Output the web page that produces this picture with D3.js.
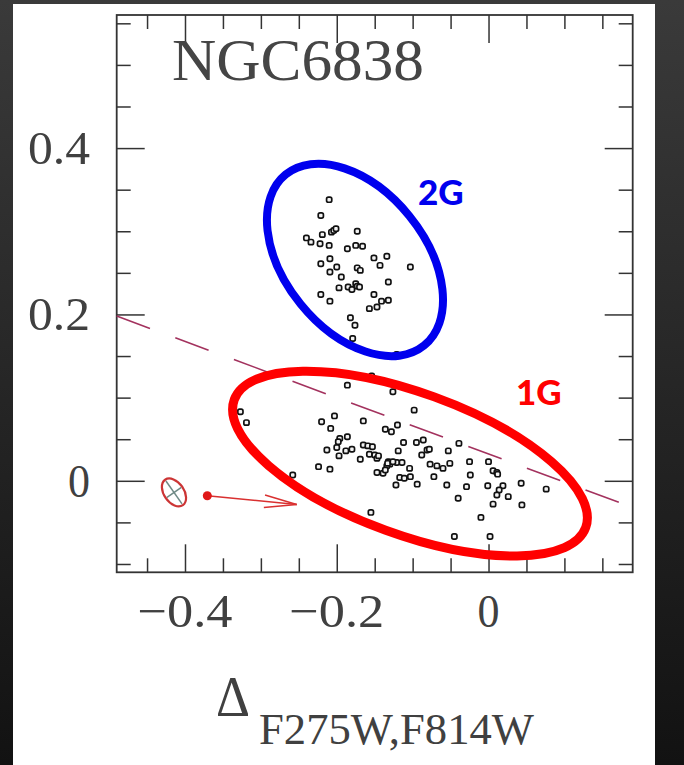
<!DOCTYPE html>
<html><head><meta charset="utf-8">
<script src="https://cdn.jsdelivr.net/npm/d3@7"></script>
<style>body{margin:0;background:#1d1d1d;} svg{display:block;}</style>
</head><body>
<svg id="chart" width="684" height="765"></svg>
<script>
// ---------------- data ----------------
const titleText = "NGC6838";
const xMajorTicks = [-0.4, -0.2, 0];
const xMinorTicks = [-0.45, -0.35, -0.3, -0.25, -0.15, -0.1, -0.05, 0.05, 0.1, 0.15];
const yMajorTicks = [0, 0.2, 0.4];
const yMinorTicks = [-0.1, -0.05, 0.05, 0.1, 0.15, 0.25, 0.3, 0.35, 0.45, 0.5, 0.55];
const xTickLabels = ["\u22120.4", "\u22120.2", "0"];
const yTickLabels = ["0", "0.2", "0.4"];

// second generation (2G) stars
const g2x = [-0.210,-0.221,-0.240,-0.234,-0.219,-0.207,-0.204,-0.201,-0.173,-0.222,-0.210,-0.186,-0.175,-0.166,-0.209,-0.221,-0.151,-0.134,-0.200,-0.209,-0.173,-0.169,-0.143,-0.103,-0.194,-0.197,-0.185,-0.180,-0.175,-0.173,-0.170,-0.132,-0.221,-0.209,-0.151,-0.141,-0.132,-0.157,-0.147,-0.182,-0.176,-0.179,-0.121];
const g2y = [0.338,0.319,0.292,0.287,0.296,0.299,0.301,0.303,0.300,0.285,0.283,0.279,0.283,0.282,0.267,0.261,0.268,0.270,0.257,0.251,0.256,0.253,0.259,0.257,0.245,0.232,0.233,0.230,0.237,0.234,0.233,0.239,0.224,0.216,0.224,0.216,0.217,0.207,0.209,0.196,0.187,0.171,0.152];

// first generation (1G) stars
const g1x = [-0.327,-0.319,-0.186,-0.154,-0.126,-0.098,-0.220,-0.203,-0.165,-0.208,-0.136,-0.128,-0.120,-0.186,-0.196,-0.198,-0.200,-0.213,-0.197,-0.188,-0.180,-0.165,-0.159,-0.153,-0.157,-0.150,-0.147,-0.169,-0.112,-0.095,-0.086,-0.119,-0.132,-0.130,-0.134,-0.121,-0.114,-0.088,-0.081,-0.078,-0.224,-0.209,-0.147,-0.139,-0.136,-0.104,-0.117,-0.111,-0.103,-0.122,-0.094,-0.077,-0.068,-0.060,-0.051,-0.053,-0.039,-0.072,-0.055,-0.025,0.000,-0.024,-0.029,0.006,0.011,0.012,-0.001,0.019,0.014,0.011,0.026,0.043,0.076,0.044,0.006,-0.040,-0.010,-0.258,-0.155,-0.045,0.002,-0.133,-0.126,-0.145];
const g1y = [0.083,0.070,0.115,0.126,0.107,0.085,0.071,0.078,0.072,0.063,0.062,0.059,0.067,0.053,0.051,0.047,0.040,0.037,0.030,0.036,0.038,0.043,0.042,0.041,0.032,0.031,0.027,0.026,0.046,0.046,0.049,0.036,0.023,0.020,0.018,0.022,0.022,0.031,0.037,0.038,0.017,0.014,0.010,0.009,0.013,0.015,0.004,0.003,0.005,-0.005,-0.004,0.020,0.018,0.015,0.021,0.036,0.045,0.005,-0.005,0.023,0.023,0.007,-0.007,0.012,0.010,0.008,-0.006,-0.006,-0.011,-0.017,-0.019,-0.003,-0.010,-0.029,-0.028,-0.021,-0.044,0.007,-0.038,-0.067,-0.067,0.021,0.023,0.030];

// dividing line
const dividerX = [-0.49, 0.19];
const dividerY = [0.198, -0.032];

// group annotations
const groupNames = ["2G", "1G"];
const groupCenterX = [-0.176, -0.1035];
const groupCenterY = [0.2655, 0.0207];

// typical error / reddening vector
const errorCenter = [-0.4145, -0.014];
const vectorStart = [-0.3706, -0.018];
const vectorEnd = [-0.2528, -0.0284];

// ---------------- drawing ----------------
const svg = d3.select("#chart");
const W = 684, H = 765;

// dark screenshot backdrop + white panel
const grad = svg.append("defs").append("linearGradient").attr("id","bg").attr("x1",0).attr("y1",0).attr("x2",0).attr("y2",1);
grad.append("stop").attr("offset","0").attr("stop-color","#3a3a3a");
grad.append("stop").attr("offset","1").attr("stop-color","#121212");
svg.append("rect").attr("width",W).attr("height",H).attr("fill","url(#bg)");
svg.append("rect").attr("x",13).attr("y",4).attr("width",642).attr("height",H-4).attr("fill","#ffffff");

const L = 116.7, R = 632.7, T = 15, B = 572.3;
const x = d3.scaleLinear().domain([-0.49, 0.19]).range([L, R]);
const y = d3.scaleLinear().domain([-0.11, 0.56]).range([B, T]);

const axisColor = "#333";
function ticks(axisFn, pos, vals, len, transform) {
  const g = svg.append("g").attr("transform", transform)
    .call(axisFn(pos).tickValues(vals).tickSize(-len).tickFormat(""));
  g.select(".domain").remove();
  g.selectAll("line").attr("stroke", axisColor).attr("stroke-width", 1.5);
}
ticks(d3.axisBottom, x, xMinorTicks, 14, `translate(0,${B})`);
ticks(d3.axisBottom, x, xMajorTicks, 28, `translate(0,${B})`);
ticks(d3.axisTop, x, xMinorTicks, 14, `translate(0,${T})`);
ticks(d3.axisTop, x, xMajorTicks, 28, `translate(0,${T})`);
ticks(d3.axisLeft, y, yMinorTicks, 14, `translate(${L},0)`);
ticks(d3.axisLeft, y, yMajorTicks, 28, `translate(${L},0)`);
ticks(d3.axisRight, y, yMinorTicks, 14, `translate(${R},0)`);
ticks(d3.axisRight, y, yMajorTicks, 28, `translate(${R},0)`);

// frame
svg.append("rect").attr("x",L).attr("y",T).attr("width",R-L).attr("height",B-T)
  .attr("fill","none").attr("stroke",axisColor).attr("stroke-width",1.8);

const serif = "'Liberation Serif','DejaVu Serif',serif";
const textCol = "#404040";
// tick labels
const xLabW = [95, 95, 22];
svg.append("g").selectAll("text").data(xMajorTicks).join("text")
  .attr("x", d => x(d)).attr("y", 627)
  .attr("text-anchor","middle")
  .attr("font-family", serif).attr("font-size", 47).attr("fill", textCol)
  .attr("textLength", (d,i) => xLabW[i]).attr("lengthAdjust","spacingAndGlyphs")
  .text((d,i) => xTickLabels[i]);
const yLabW = [22, 62, 62];
svg.append("g").selectAll("text").data(yMajorTicks).join("text")
  .attr("x", 90).attr("y", d => y(d) + 16)
  .attr("text-anchor","end")
  .attr("font-family", serif).attr("font-size", 47).attr("fill", textCol)
  .attr("textLength", (d,i) => yLabW[i]).attr("lengthAdjust","spacingAndGlyphs")
  .text((d,i) => yTickLabels[i]);

// title
svg.append("text").attr("x",172).attr("y",80)
  .attr("font-family", serif).attr("font-size", 60).attr("fill","#454545")
  .attr("textLength", 252).attr("lengthAdjust","spacingAndGlyphs")
  .text(titleText);

// x axis title
svg.append("text").attr("x",216).attr("y",716)
  .attr("font-family", serif).attr("font-size", 58).attr("fill", textCol)
  .attr("textLength", 34).attr("lengthAdjust","spacingAndGlyphs")
  .text("\u0394");
svg.append("text").attr("x",259).attr("y",744)
  .attr("font-family", serif).attr("font-size", 44).attr("fill", textCol)
  .attr("textLength", 275).attr("lengthAdjust","spacingAndGlyphs")
  .text("F275W,F814W");

// dashed dividing line
svg.append("line")
  .attr("x1", x(dividerX[0])).attr("y1", y(dividerY[0]))
  .attr("x2", x(dividerX[1])).attr("y2", y(dividerY[1]))
  .attr("stroke","#a3325e").attr("stroke-width",1.6)
  .attr("stroke-dasharray","35.5,27");

// stars
const stars = g2x.map((v,i)=>({x:v,y:g2y[i]})).concat(g1x.map((v,i)=>({x:v,y:g1y[i]})));
svg.append("g").selectAll("rect").data(stars).join("rect")
  .attr("x", d => x(d.x) - 2.6).attr("y", d => y(d.y) - 2.6)
  .attr("width", 5.2).attr("height", 5.2).attr("rx", 1.8)
  .attr("fill","#f2f2f2").attr("stroke","#111").attr("stroke-width",1.7);

// group ellipses
const ellSize = [[110, 70, 51], [187, 71, 20]];
const ellColor = ["#0000ee", "#ff0000"];
const ellWidth = [8, 9];
groupNames.forEach((n,i) => {
  svg.append("ellipse")
    .attr("transform", `translate(${x(groupCenterX[i])},${y(groupCenterY[i])}) rotate(${ellSize[i][2]})`)
    .attr("rx", ellSize[i][0]).attr("ry", ellSize[i][1])
    .attr("fill","none").attr("stroke", ellColor[i]).attr("stroke-width", ellWidth[i]);
});
// group labels
const labPos = [[418, 205], [516, 405]];
groupNames.forEach((n,i) => {
  svg.append("text").attr("x", labPos[i][0]).attr("y", labPos[i][1])
    .attr("font-family","Lato, 'Open Sans', sans-serif").attr("font-weight",900)
    .attr("font-size",35).attr("fill", ellColor[i]).text(n);
});

// error ellipse with cross
const ec = [x(errorCenter[0]), y(errorCenter[1])];
const eg = svg.append("g").attr("transform", `translate(${ec[0]},${ec[1]}) rotate(55)`);
eg.append("line").attr("x1",-14).attr("x2",14).attr("y1",0).attr("y2",0).attr("stroke","#6f8a86").attr("stroke-width",1.5);
eg.append("line").attr("x1",0).attr("x2",0).attr("y1",-9).attr("y2",9).attr("stroke","#6f8a86").attr("stroke-width",1.5);
eg.append("ellipse").attr("rx",15.5).attr("ry",10).attr("fill","none").attr("stroke","#cc3535").attr("stroke-width",2.2);

// vector
const vs = [x(vectorStart[0]), y(vectorStart[1])];
const ve = [x(vectorEnd[0]), y(vectorEnd[1])];
svg.append("line").attr("x1",vs[0]).attr("y1",vs[1]).attr("x2",ve[0]).attr("y2",ve[1])
  .attr("stroke","#d93030").attr("stroke-width",1.6);
const ang = Math.atan2(ve[1]-vs[1], ve[0]-vs[0]) + Math.PI;
[-0.19, 0.19].forEach(da => {
  svg.append("line").attr("x1",ve[0]).attr("y1",ve[1])
    .attr("x2", ve[0] + 33*Math.cos(ang+da)).attr("y2", ve[1] + 33*Math.sin(ang+da))
    .attr("stroke","#d93030").attr("stroke-width",1.6);
});
svg.append("circle").attr("cx",vs[0]).attr("cy",vs[1]).attr("r",4.5).attr("fill","#e01818");
</script>
</body></html>
